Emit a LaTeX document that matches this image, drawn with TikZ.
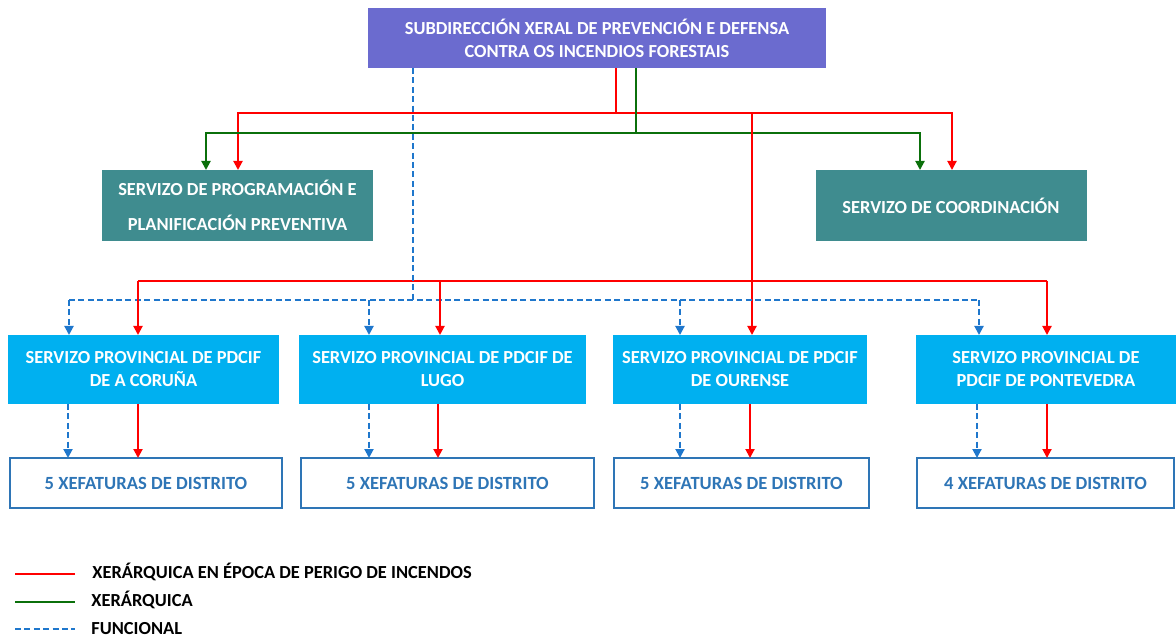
\documentclass[tikz,border=0pt]{standalone}
\usepackage{fontspec}
\setmainfont{Carlito}
\usetikzlibrary{arrows.meta}
\definecolor{subcol}{HTML}{6B6BCF}
\definecolor{servcol}{HTML}{3F8C8F}
\definecolor{provcol}{HTML}{00B0F0}
\definecolor{xefcol}{HTML}{2E75B6}
\definecolor{xred}{HTML}{FF0000}
\definecolor{xgreen}{HTML}{0B700B}
\definecolor{xblue}{HTML}{1F77CC}
\tikzset{
  box/.style={inner sep=0pt, outer sep=0pt, align=center, font=\bfseries\fontsize{9.2}{11.5}\selectfont},
  subbox/.style={box, fill=subcol, text=white, minimum width=229pt, minimum height=30pt},
  servbox/.style={box, fill=servcol, text=white, minimum width=135.5pt, minimum height=35.5pt},
  provbox/.style={box, fill=provcol, text=white, minimum height=34.5pt},
  xefbox/.style={box, draw=xefcol, line width=0.8pt, text=xefcol, minimum height=25pt, font=\bfseries\fontsize{9.3}{11}\selectfont},
  redl/.style={draw=xred, line width=1pt},
  greenl/.style={draw=xgreen, line width=1pt},
  funl/.style={draw=xblue, line width=1pt, dash pattern=on 3pt off 1.7pt},
  tip/.style={-{Triangle[width=4.5pt,length=4.5pt]}},
  legtext/.style={anchor=west, inner sep=0pt, font=\bfseries\fontsize{9.2}{10}\selectfont}
}
\begin{document}
\begin{tikzpicture}[x=0.5pt,y=-0.5pt]
	\useasboundingbox (0,0) rectangle (1176,640);
	% boxes
	\node[subbox] (sub) at (597,38) {SUBDIRECCIÓN XERAL DE PREVENCIÓN E DEFENSA\\CONTRA OS INCENDIOS FORESTAIS};
	\node[servbox] (prog) at (237.5,205.5) {SERVIZO DE PROGRAMACIÓN E\\[6pt]PLANIFICACIÓN PREVENTIVA};
	\node[servbox] (coord) at (951,205.5) {SERVIZO DE COORDINACIÓN};
	\node[provbox, minimum width=135.5pt] (cor) at (143.5,369.5) {SERVIZO PROVINCIAL DE PDCIF\\DE A CORUÑA};
	\node[provbox, minimum width=143.5pt] (lugo) at (442.5,369.5) {SERVIZO PROVINCIAL DE PDCIF DE\\LUGO};
	\node[provbox, minimum width=127pt] (our) at (740,369.5) {SERVIZO PROVINCIAL DE PDCIF\\DE OURENSE};
	\node[provbox, minimum width=130pt] (pont) at (1046,369.5) {SERVIZO PROVINCIAL DE\\PDCIF DE PONTEVEDRA};
	\node[xefbox, minimum width=136pt] (xcor) at (146,483) {5 XEFATURAS DE DISTRITO};
	\node[xefbox, minimum width=146.5pt] (xlugo) at (447.5,483) {5 XEFATURAS DE DISTRITO};
	\node[xefbox, minimum width=127.5pt] (xour) at (741.5,483) {5 XEFATURAS DE DISTRITO};
	\node[xefbox, minimum width=128.5pt] (xpont) at (1045.5,483) {4 XEFATURAS DE DISTRITO};
	% junctions
	\coordinate (jr) at (616,113);
	\coordinate (jg) at (636,133);
	\coordinate (jb) at (413,300);
	\coordinate (jp) at (138,281);
	% upper level
	\draw[redl,tip] (sub.south -| jr) -- (jr) -| (prog.north -| 238,0);
	\draw[redl,tip] (jr) -| (coord.north -| 952,0);
	\draw[greenl,tip] (sub.south -| jg) -- (jg) -| (prog.north -| 206,0);
	\draw[greenl,tip] (jg) -| (coord.north -| 920,0);
	\draw[redl,tip] (jr -| 752,0) -- (our.north -| 752,0);
	% provincial services
	\draw[redl] (jp) -- (1047,281);
	\draw[funl] (sub.south -| jb) -- (jb);
	\draw[funl] (69,300) -- (979,300);
	\foreach \n/\x in {cor/138,lugo/440,pont/1047}
		\draw[redl,tip] (\x,281) -- (\n.north -| \x,0);
	\foreach \n/\x in {cor/69,lugo/369,our/680,pont/979}
		\draw[funl,tip] (\x,300) -- (\n.north -| \x,0);
	% district chiefs
	\foreach \a/\b/\xb/\xr in {cor/xcor/68/138,lugo/xlugo/369/438,our/xour/680/750,pont/xpont/977/1047}{
		\draw[funl,tip] (\a.south -| \xb,0) -- (\b.north -| \xb,0);
		\draw[redl,tip] (\a.south -| \xr,0) -- (\b.north -| \xr,0);
	}
	% legend
	\node[legtext] (leg1) at (92,572) {XERÁRQUICA EN ÉPOCA DE PERIGO DE INCENDOS};
	\node[legtext] (leg2) at (91,600) {XERÁRQUICA};
	\node[legtext] (leg3) at (91,629) {FUNCIONAL};
	\draw[redl] (15,574) -- (75,574);
	\draw[greenl] (15,602) -- (75,602);
	\draw[funl] (15,629) -- (75,629);
\end{tikzpicture}
\end{document}
